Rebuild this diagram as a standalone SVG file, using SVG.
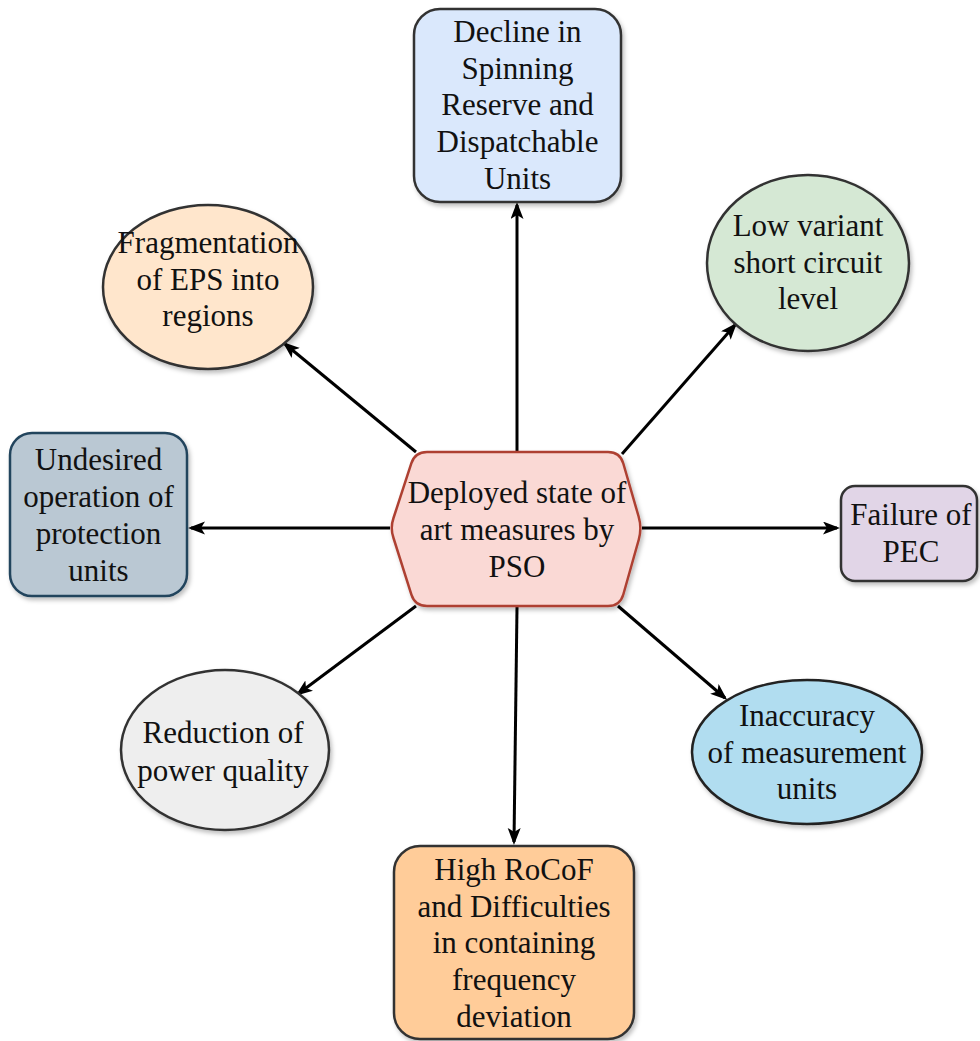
<svg xmlns="http://www.w3.org/2000/svg" width="980" height="1041" viewBox="0 0 980 1041">
  <defs>
    <filter id="shadow" x="-10%" y="-10%" width="125%" height="125%">
      <feDropShadow dx="2" dy="3" stdDeviation="2" flood-color="#000" flood-opacity="0.25"/>
    </filter>
    <marker id="arrow" markerUnits="userSpaceOnUse" markerWidth="18" markerHeight="14" refX="14" refY="6.5" orient="auto">
      <path d="M0,0 L17,6.5 L0,13 L4,6.5 Z" fill="#000"/>
    </marker>
    <style>
      .shape { stroke-width: 2.5; filter: url(#shadow); }
      .edge { stroke: #000; stroke-width: 3; fill: none; marker-end: url(#arrow); }
      text { font-family: "Liberation Serif", "Times New Roman", serif; font-size: 31px; fill: #111; text-anchor: middle; }
    </style>
  </defs>

  <!-- connectors from the central hexagon -->
  <g id="connectors">
    <path class="edge" d="M517,452 L517,205"/>
    <path class="edge" d="M622,454 L735,325"/>
    <path class="edge" d="M416,452 L285,344"/>
    <path class="edge" d="M390,528 L191,528"/>
    <path class="edge" d="M642,528 L837,528"/>
    <path class="edge" d="M416,606 L298,694"/>
    <path class="edge" d="M618,606 L725,698"/>
    <path class="edge" d="M517,607 L514,842"/>
  </g>

  <g id="center">
    <path class="shape" fill="#fad9d5" stroke="#ae4132"
      d="M411.3,463.4 Q415,452 427,452 L608,452 Q620,452 623.3,463.5 L638.6,516.5 Q642,528 638.8,539.5 L623.3,594.5 Q620,606 608,606 L427,606 Q415,606 411.4,594.6 L393.5,538 Q390,528 393.5,518 Z"/>
    <text x="517" y="503">Deployed state of</text>
    <text x="517" y="540">art measures by</text>
    <text x="517" y="577">PSO</text>
  </g>

  <g id="spinning-reserve">
    <rect class="shape" x="414" y="9" width="207" height="193" rx="26" fill="#dae8fc" stroke="#333"/>
    <text x="517.5" y="42">Decline in</text>
    <text x="517.5" y="79">Spinning</text>
    <text x="517.5" y="115">Reserve and</text>
    <text x="517.5" y="152">Dispatchable</text>
    <text x="517.5" y="189">Units</text>
  </g>

  <g id="short-circuit">
    <ellipse class="shape" cx="808" cy="263" rx="101" ry="88" fill="#d5e8d4" stroke="#333"/>
    <text x="808" y="236">Low variant</text>
    <text x="808" y="273">short circuit</text>
    <text x="808" y="309">level</text>
  </g>

  <g id="fragmentation">
    <ellipse class="shape" cx="208" cy="287" rx="105" ry="82" fill="#ffe6cc" stroke="#333"/>
    <text x="208" y="253">Fragmentation</text>
    <text x="208" y="290">of EPS into</text>
    <text x="208" y="326">regions</text>
  </g>

  <g id="protection">
    <rect class="shape" x="10" y="433" width="177" height="163" rx="22" fill="#bac8d3" stroke="#23445d"/>
    <text x="98.5" y="470">Undesired</text>
    <text x="98.5" y="507">operation of</text>
    <text x="98.5" y="544">protection</text>
    <text x="98.5" y="581">units</text>
  </g>

  <g id="pec">
    <rect class="shape" x="841" y="486" width="136" height="95" rx="14" fill="#e1d5e7" stroke="#333"/>
    <text x="911" y="525">Failure of</text>
    <text x="911" y="562">PEC</text>
  </g>

  <g id="power-quality">
    <ellipse class="shape" cx="225" cy="750" rx="104" ry="80" fill="#eeeeee" stroke="#333"/>
    <text x="223" y="743">Reduction of</text>
    <text x="223" y="781">power quality</text>
  </g>

  <g id="measurement">
    <ellipse class="shape" cx="807" cy="752" rx="115" ry="72" fill="#b1ddf0" stroke="#222"/>
    <text x="807" y="726">Inaccuracy</text>
    <text x="807" y="763">of measurement</text>
    <text x="807" y="799">units</text>
  </g>

  <g id="rocof">
    <rect class="shape" x="394" y="846" width="240" height="193" rx="26" fill="#ffcc99" stroke="#333"/>
    <text x="514" y="880">High RoCoF</text>
    <text x="514" y="917">and Difficulties</text>
    <text x="514" y="953">in containing</text>
    <text x="514" y="990">frequency</text>
    <text x="514" y="1027">deviation</text>
  </g>
</svg>
